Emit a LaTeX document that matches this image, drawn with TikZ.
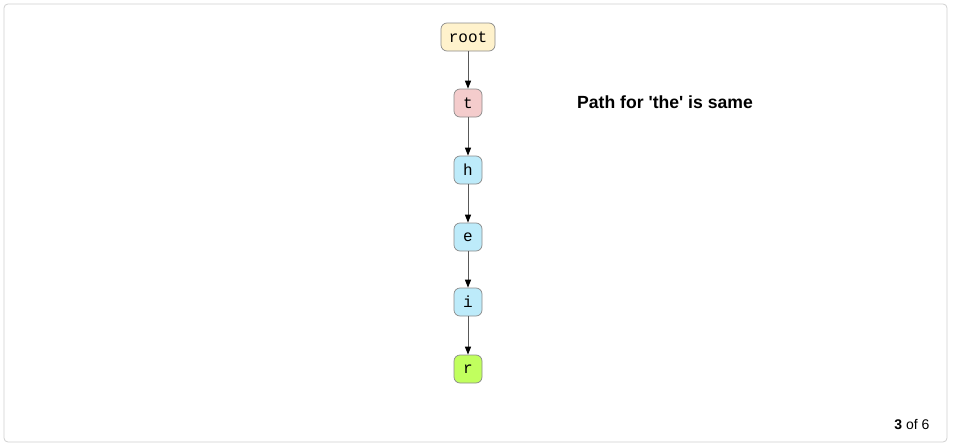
\documentclass[tikz,border=0pt]{standalone}
\usepackage{fontspec}
\setmainfont{Liberation Sans}
\setmonofont{Liberation Mono}
\usetikzlibrary{positioning, arrows.meta}
\definecolor{rootcolor}{HTML}{FFF2CC}
\definecolor{firstcolor}{HTML}{F4CCCC}
\definecolor{midcolor}{HTML}{BDEBFA}
\definecolor{endcolor}{HTML}{C1FF5E}
\definecolor{bordercolor}{HTML}{8A8A8A}
\definecolor{framecolor}{HTML}{D0D0D0}

\begin{document}
\begin{tikzpicture}[
    x=1pt, y=-1pt,
    % Node styles
    trienode/.style={
        rectangle, rounded corners=6pt,
        draw=bordercolor, line width=0.7pt,
        minimum width=28pt, minimum height=28pt,
        inner sep=2pt,
        font=\fontsize{16}{18}\selectfont\ttfamily
    },
    % Edge styles
    trieedge/.style={
        -{Triangle[width=6pt,length=8pt,fill=black,color=black]}, line width=1pt, black!65
    },
    % Label styles
    caption/.style={
        font=\fontsize{17.6}{20}\selectfont\bfseries
    }
]

% ============ FRAME ============
\useasboundingbox (0, 0) rectangle (953, 447);
\draw[framecolor, line width=0.8pt, rounded corners=4pt] (4, 4) rectangle (947, 442);

% ============ TRIE NODES ============
\node[trienode, fill=rootcolor, minimum width=54pt] (root) at (468, 37) {root};
\node[trienode, fill=firstcolor] (t) at (468, 103) {t};
\node[trienode, fill=midcolor] (h) at (468, 170) {h};
\node[trienode, fill=midcolor] (e) at (468, 237) {e};
\node[trienode, fill=midcolor] (i) at (468, 302) {i};
\node[trienode, fill=endcolor] (r) at (468, 369) {r};

% ============ EDGES ============
\draw[trieedge] (root.south) -- (t.north);
\draw[trieedge] (t.south) -- (h.north);
\draw[trieedge] (h.south) -- (e.north);
\draw[trieedge] (e.south) -- (i.north);
\draw[trieedge] (i.south) -- (r.north);

% ============ ANNOTATIONS ============
\node[caption] (note) at (665, 102) {Path for \textquotesingle the\textquotesingle{} is same};
\node[font=\fontsize{14}{16}\selectfont] (page) at (912, 425) {\textbf{3} of 6};

\end{tikzpicture}
\end{document}
